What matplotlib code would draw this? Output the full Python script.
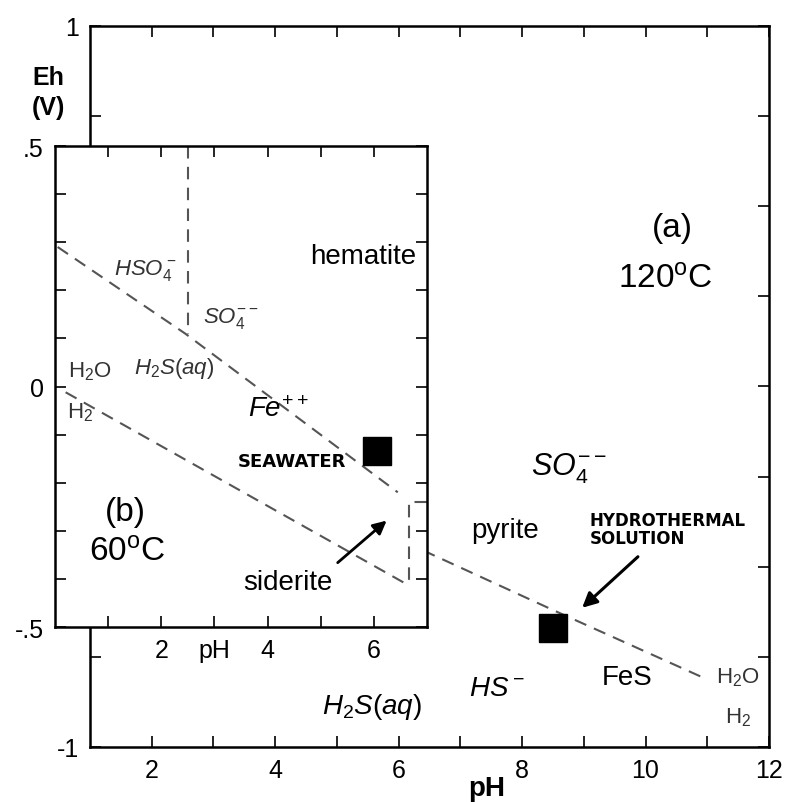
import matplotlib
matplotlib.use('Agg')
import matplotlib.pyplot as plt

plt.rcParams['font.family'] = ['Liberation Sans', 'DejaVu Sans']
plt.rcParams['mathtext.fontset'] = 'custom'
plt.rcParams['mathtext.rm'] = 'Liberation Sans'
plt.rcParams['mathtext.it'] = 'Liberation Sans:italic'
plt.rcParams['mathtext.bf'] = 'Liberation Sans:bold'

# ---------------- data: main diagram (a) 120 C ----------------
main_water_ph = [6.4, 8.5, 10.9]
main_water_eh = [-0.455, -0.62, -0.805]
hydro_ph = [8.5]
hydro_eh = [-0.67]
main_xticks = [2, 3, 4, 5, 6, 7, 8, 9, 10, 11, 12]
main_xticklabels = ['2', '', '4', '', '6', '', '8', '', '10', '', '12']
main_yticks = [-1, -0.75, -0.5, -0.25, 0, 0.25, 0.5, 0.75, 1]
main_yticklabels = ['-1', '', '', '', '', '', '', '', '1']

# ---------------- data: inset diagram (b) 60 C ----------------
inset_water_ph = [0.2, 6.6]
inset_water_eh = [-0.012, -0.41]
inset_sulfur_ph = [0.05, 2.45, 6.45]
inset_sulfur_eh = [0.29, 0.11, -0.22]
inset_hso4_ph = [2.5, 2.5]
inset_hso4_eh = [0.5, 0.11]
inset_siderite_ph = [7.0, 6.66, 6.66]
inset_siderite_eh = [-0.24, -0.24, -0.41]
seawater_ph = [6.06]
seawater_eh = [-0.134]
inset_xticks = [1, 2, 3, 4, 5, 6]
inset_xticklabels = ['', '2', 'pH', '4', '', '6']
inset_yticks = [-0.5, -0.4, -0.3, -0.2, -0.1, 0, 0.1, 0.2, 0.3, 0.4, 0.5]
inset_yticklabels = ['-.5', '', '', '', '', '0', '', '', '', '', '.5']

W, H = 786, 803
fig = plt.figure(figsize=(W / 100, H / 100), dpi=100)

dash = (0, (6, 4))
lcol = '#555555'

# ---------------- main axes ----------------
ax = fig.add_axes([90 / W, 1 - 748 / H, (769 - 90) / W, (748 - 27) / H])
ax.set_xlim(1, 12)
ax.set_ylim(-1, 1)
ax.set_xticks(main_xticks)
ax.set_xticklabels(main_xticklabels)
ax.set_yticks(main_yticks)
ax.set_yticklabels(main_yticklabels)
ax.tick_params(direction='in', top=True, right=True, length=8, width=1.2,
               labelsize=18, pad=8)
for s in ax.spines.values():
    s.set_linewidth(1.8)

ax.plot(main_water_ph, main_water_eh, linestyle=dash, color=lcol, lw=1.5)
ax.plot(hydro_ph, hydro_eh, marker='s', color='black', markersize=20, linestyle='none')
ax.annotate('', xy=(8.94, -0.619), xytext=(9.91, -0.467),
            arrowprops=dict(arrowstyle='-|>', lw=2.2, color='black', mutation_scale=22))

ax.text(10.43, 0.442, '(a)', fontsize=24, ha='center', va='center')
ax.text(10.32, 0.297, '120$^{\\mathrm{o}}$C', fontsize=24, ha='center', va='center')
ax.text(8.75, -0.225, r'$SO_4^{--}$', fontsize=22, ha='center', va='center')
ax.text(7.73, -0.397, 'pyrite', fontsize=20, ha='center', va='center')
ax.text(9.1, -0.395, 'HYDROTHERMAL\nSOLUTION', fontsize=12, fontweight='bold',
        family='DejaVu Sans', ha='left', va='center', linespacing=1.05)
ax.text(7.6, -0.835, r'$HS^-$', fontsize=20, ha='center', va='center')
ax.text(9.7, -0.806, 'FeS', fontsize=20, ha='center', va='center')
ax.text(5.57, -0.885, r'$H_2S(aq)$', fontsize=20, ha='center', va='center')
ax.text(11.5, -0.806, r'$\mathrm{H_2O}$', fontsize=16, ha='center', va='center', color='#333333')
ax.text(11.5, -0.917, r'$\mathrm{H_2}$', fontsize=16, ha='center', va='center', color='#333333')
ax.text(7.43, -1.115, 'pH', fontsize=20, fontweight='bold', ha='center', va='center', clip_on=False)

fig.text(48 / W, 1 - 78 / H, 'Eh', fontsize=18, fontweight='bold', ha='center', va='center')
fig.text(48 / W, 1 - 108 / H, '(V)', fontsize=18, fontweight='bold', ha='center', va='center')

# ---------------- inset axes ----------------
ins = fig.add_axes([55 / W, 1 - 628 / H, (427 - 55) / W, (628 - 147) / H])
ins.set_facecolor('white')
ins.set_xlim(0, 7)
ins.set_ylim(-0.5, 0.5)
ins.set_xticks(inset_xticks)
ins.set_xticklabels(inset_xticklabels)
ins.set_yticks(inset_yticks)
ins.set_yticklabels(inset_yticklabels)
ins.tick_params(direction='in', top=True, right=True, length=8, width=1.2,
                labelsize=18, pad=8)
for s in ins.spines.values():
    s.set_linewidth(1.8)

ins.plot(inset_water_ph, inset_water_eh, linestyle=dash, color=lcol, lw=1.5)
ins.plot(inset_sulfur_ph, inset_sulfur_eh, linestyle=dash, color=lcol, lw=1.5)
ins.plot(inset_hso4_ph, inset_hso4_eh, linestyle=dash, color=lcol, lw=1.5)
ins.plot(inset_siderite_ph, inset_siderite_eh, linestyle=dash, color=lcol, lw=1.5)
ins.plot(seawater_ph, seawater_eh, marker='s', color='black', markersize=20, linestyle='none')
ins.annotate('', xy=(6.28, -0.275), xytext=(5.28, -0.37),
             arrowprops=dict(arrowstyle='-|>', lw=2.0, color='black', mutation_scale=20))

gray = '#333333'
ins.text(5.79, 0.271, 'hematite', fontsize=20, ha='center', va='center')
ins.text(1.7, 0.244, r'$HSO_4^-$', fontsize=16, ha='center', va='center', color=gray)
ins.text(3.3, 0.144, r'$SO_4^{--}$', fontsize=16, ha='center', va='center', color=gray)
ins.text(2.25, 0.04, r'$H_2S(aq)$', fontsize=16, ha='center', va='center', color=gray)
ins.text(0.66, 0.032, r'$\mathrm{H_2O}$', fontsize=16, ha='center', va='center', color=gray)
ins.text(0.47, -0.053, r'$\mathrm{H_2}$', fontsize=16, ha='center', va='center', color=gray)
ins.text(4.2, -0.047, r'$Fe^{++}$', fontsize=20, ha='center', va='center')
ins.text(5.47, -0.155, 'SEAWATER', fontsize=13, fontweight='bold', family='DejaVu Sans',
         ha='right', va='center')
ins.text(1.32, -0.259, '(b)', fontsize=24, ha='center', va='center')
ins.text(1.36, -0.345, '60$^{\\mathrm{o}}$C', fontsize=24, ha='center', va='center')
ins.text(4.38, -0.406, 'siderite', fontsize=20, ha='center', va='center')

fig.savefig('out.png', dpi=100)
